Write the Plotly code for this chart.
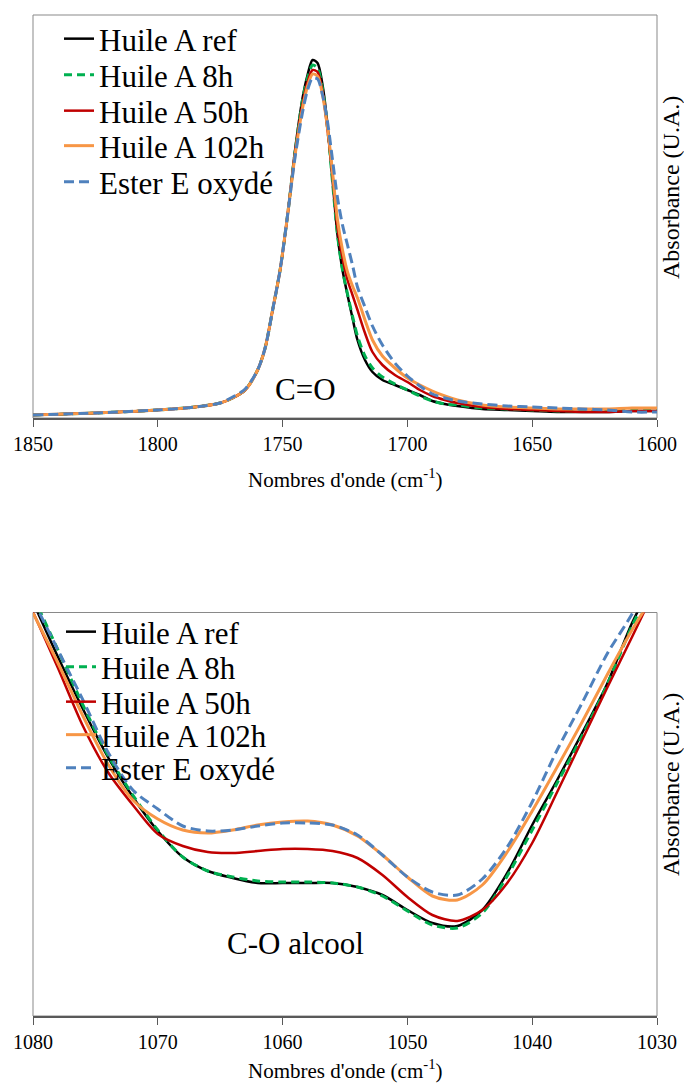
import plotly.graph_objects as go

# ---------------- DATA ----------------
series_names = ["Huile A ref", "Huile A 8h", "Huile A 50h", "Huile A 102h", "Ester E oxydé"]

# C=O region (top chart)
wn_co = [1850, 1825, 1800, 1785, 1775, 1770, 1765, 1760, 1757, 1754, 1751, 1748, 1745,
         1742, 1740, 1738, 1736, 1734, 1732, 1730, 1728, 1726, 1724, 1722, 1720, 1717,
         1714, 1710, 1705, 1700, 1695, 1690, 1685, 1680, 1670, 1660, 1650, 1640, 1630,
         1620, 1610, 1600]
co_ref = [0.003, 0.005, 0.008, 0.011, 0.015, 0.020, 0.028, 0.048, 0.070, 0.108, 0.148, 0.203, 0.268,
          0.320, 0.343, 0.358, 0.355, 0.333, 0.293, 0.238, 0.183, 0.148, 0.123, 0.100, 0.078, 0.058,
          0.046, 0.038, 0.033, 0.028, 0.023, 0.017, 0.014, 0.012, 0.009, 0.008, 0.007, 0.006, 0.006,
          0.006, 0.007, 0.007]
co_8h = [0.003, 0.005, 0.008, 0.011, 0.015, 0.020, 0.028, 0.048, 0.070, 0.108, 0.148, 0.203, 0.266,
         0.318, 0.340, 0.353, 0.350, 0.329, 0.290, 0.236, 0.183, 0.148, 0.124, 0.102, 0.082, 0.062,
         0.050, 0.041, 0.034, 0.028, 0.022, 0.017, 0.014, 0.013, 0.010, 0.009, 0.008, 0.007, 0.007,
         0.007, 0.008, 0.008]
co_50h = [0.003, 0.005, 0.008, 0.011, 0.015, 0.020, 0.028, 0.048, 0.070, 0.108, 0.148, 0.203, 0.265,
          0.314, 0.336, 0.348, 0.346, 0.326, 0.288, 0.243, 0.190, 0.160, 0.138, 0.123, 0.108, 0.085,
          0.066, 0.053, 0.043, 0.036, 0.028, 0.022, 0.018, 0.015, 0.011, 0.009, 0.008, 0.007, 0.006,
          0.006, 0.007, 0.007]
co_102h = [0.003, 0.005, 0.008, 0.011, 0.015, 0.020, 0.028, 0.048, 0.070, 0.108, 0.148, 0.203, 0.263,
           0.310, 0.332, 0.344, 0.342, 0.323, 0.290, 0.246, 0.198, 0.168, 0.146, 0.132, 0.120, 0.098,
           0.078, 0.062, 0.050, 0.040, 0.033, 0.027, 0.022, 0.018, 0.013, 0.011, 0.010, 0.009, 0.009,
           0.009, 0.010, 0.010]
co_ester = [0.003, 0.005, 0.008, 0.011, 0.015, 0.021, 0.029, 0.048, 0.070, 0.108, 0.148, 0.203, 0.261,
            0.306, 0.328, 0.340, 0.339, 0.323, 0.296, 0.258, 0.220, 0.193, 0.173, 0.153, 0.131, 0.111,
            0.092, 0.073, 0.055, 0.042, 0.032, 0.024, 0.020, 0.017, 0.014, 0.012, 0.011, 0.010, 0.009,
            0.008, 0.006, 0.006]

# C-O alcool region (bottom chart)
wn_c_o = [1080, 1078, 1076, 1074, 1072, 1070, 1068, 1066, 1064, 1062, 1060, 1058, 1056,
          1054, 1052, 1050, 1048, 1046, 1044, 1042, 1040, 1038, 1036, 1034, 1032, 1030]
c_o_ref = [0.414, 0.359, 0.307, 0.259, 0.219, 0.185, 0.159, 0.145, 0.138, 0.133, 0.133, 0.133, 0.133,
           0.129, 0.121, 0.106, 0.093, 0.090, 0.106, 0.143, 0.191, 0.236, 0.283, 0.332, 0.393, 0.441]
c_o_8h = [0.420, 0.366, 0.311, 0.261, 0.221, 0.186, 0.159, 0.145, 0.139, 0.135, 0.134, 0.134, 0.133,
          0.129, 0.120, 0.105, 0.091, 0.088, 0.103, 0.140, 0.186, 0.233, 0.280, 0.331, 0.390, 0.439]
c_o_50h = [0.404, 0.348, 0.290, 0.244, 0.211, 0.182, 0.170, 0.164, 0.163, 0.165, 0.167, 0.167, 0.165,
           0.158, 0.141, 0.119, 0.101, 0.095, 0.106, 0.133, 0.173, 0.224, 0.276, 0.328, 0.379, 0.431]
c_o_102h = [0.403, 0.353, 0.300, 0.252, 0.216, 0.197, 0.186, 0.183, 0.186, 0.191, 0.194, 0.195, 0.191,
            0.180, 0.161, 0.139, 0.120, 0.116, 0.131, 0.164, 0.205, 0.249, 0.294, 0.341, 0.386, 0.426]
c_o_ester = [0.416, 0.366, 0.316, 0.264, 0.226, 0.207, 0.190, 0.185, 0.186, 0.190, 0.193, 0.193, 0.191,
             0.181, 0.161, 0.139, 0.124, 0.121, 0.137, 0.169, 0.214, 0.266, 0.313, 0.362, 0.402, 0.449]

co_ticks = [1850, 1800, 1750, 1700, 1650, 1600]
c_o_ticks = [1080, 1070, 1060, 1050, 1040, 1030]

# ---------------- STYLE ----------------
W, H = 684, 1088
FONT = "Liberation Serif, Times New Roman, serif"
colors = ["#000000", "#00B050", "#C00000", "#F79646", "#4F81BD"]
dashes = ["solid", "8px,5px", "solid", "solid", "10px,5px"]
widths = [2.5, 3, 2.5, 3, 3]

X0, X1 = 33, 657
TOP_T, TOP_B = 15, 418
BOT_T, BOT_B = 612.5, 1016
TOP_ROWS = [39, 75, 111, 146, 182]
BOT_ROWS = [632, 667, 702, 735, 768]
LEG_X_TOP, LEG_X_BOT = 59, 61

fig = go.Figure()
top_vals = [co_ref, co_8h, co_50h, co_102h, co_ester]
bot_vals = [c_o_ref, c_o_8h, c_o_50h, c_o_102h, c_o_ester]
legends = {}
for i, name in enumerate(series_names):
    lid = "legend" if i == 0 else f"legend{i + 1}"
    fig.add_trace(go.Scatter(x=wn_co, y=top_vals[i], name=name, mode="lines",
                             line=dict(color=colors[i], width=widths[i], dash=dashes[i],
                                       shape="spline", smoothing=0.8),
                             xaxis="x", yaxis="y", legend=lid))
    legends[lid] = dict(x=LEG_X_TOP / W, y=1 - TOP_ROWS[i] / H, xanchor="left", yanchor="middle")
for i, name in enumerate(series_names):
    lid = f"legend{i + 6}"
    fig.add_trace(go.Scatter(x=wn_c_o, y=bot_vals[i], name=name, mode="lines",
                             line=dict(color=colors[i], width=widths[i], dash=dashes[i],
                                       shape="spline", smoothing=0.8),
                             xaxis="x2", yaxis="y2", legend=lid))
    legends[lid] = dict(x=LEG_X_BOT / W, y=1 - BOT_ROWS[i] / H, xanchor="left", yanchor="middle")
for lid, d in legends.items():
    d.update(font=dict(family=FONT, size=31, color="black"), bgcolor="rgba(0,0,0,0)",
             borderwidth=0, itemwidth=30)

xdom = [X0 / W, X1 / W]
axis_common = dict(showgrid=False, zeroline=False, ticks="outside", ticklen=7,
                   tickcolor="#595959", showline=True, linecolor="#595959", linewidth=1.5,
                   tickfont=dict(family=FONT, size=20, color="black"))
fig.update_layout(
    width=W, height=H, paper_bgcolor="white", plot_bgcolor="white",
    margin=dict(l=0, r=0, t=0, b=0, autoexpand=False),
    showlegend=True,
    xaxis=dict(domain=xdom, range=[1850, 1600], tickvals=co_ticks, anchor="y", **axis_common),
    yaxis=dict(domain=[1 - TOP_B / H, 1 - TOP_T / H], range=[0, 0.403], showticklabels=False,
               showgrid=False, zeroline=False, anchor="x"),
    xaxis2=dict(domain=xdom, range=[1080, 1030], tickvals=c_o_ticks, anchor="y2", **axis_common),
    yaxis2=dict(domain=[1 - BOT_B / H, 1 - BOT_T / H], range=[0, 0.4035], showticklabels=False,
                showgrid=False, zeroline=False, anchor="x2"),
    **legends,
)

shapes = []
for xr, yr in (("x", "y"), ("x2", "y2")):
    shapes.append(dict(type="rect", xref=f"{xr} domain", yref=f"{yr} domain", x0=0, x1=1, y0=0, y1=1,
                       line=dict(color="#898989", width=1), layer="below"))
fig.update_layout(shapes=shapes)

ann = []
title_txt = "Nombres d'onde (cm<sup>-1</sup>)"
ann.append(dict(text=title_txt, x=(X0 + X1) / 2 / W, y=1 - 479 / H, xref="paper", yref="paper",
                showarrow=False, font=dict(family=FONT, size=21, color="black"), yanchor="middle"))
ann.append(dict(text=title_txt, x=(X0 + X1) / 2 / W, y=1 - 1069 / H, xref="paper", yref="paper",
                showarrow=False, font=dict(family=FONT, size=21, color="black"), yanchor="middle"))
for yc in (188, 785):
    ann.append(dict(text="Absorbance (U.A.)", x=671 / W, y=1 - yc / H, xref="paper", yref="paper",
                    showarrow=False, textangle=-90, font=dict(family=FONT, size=24, color="black"),
                    xanchor="center", yanchor="middle", borderpad=0))
ann.append(dict(text="C=O", x=1741, y=0.029, xref="x", yref="y", showarrow=False,
                font=dict(family=FONT, size=31, color="black")))
ann.append(dict(text="C-O alcool", x=1059, y=0.073, xref="x2", yref="y2", showarrow=False,
                font=dict(family=FONT, size=31, color="black")))
fig.update_layout(annotations=ann)

fig.write_html("out.html", config={"displayModeBar": False},
               post_script="document.body.style.margin='0px';document.body.style.overflow='hidden';")
